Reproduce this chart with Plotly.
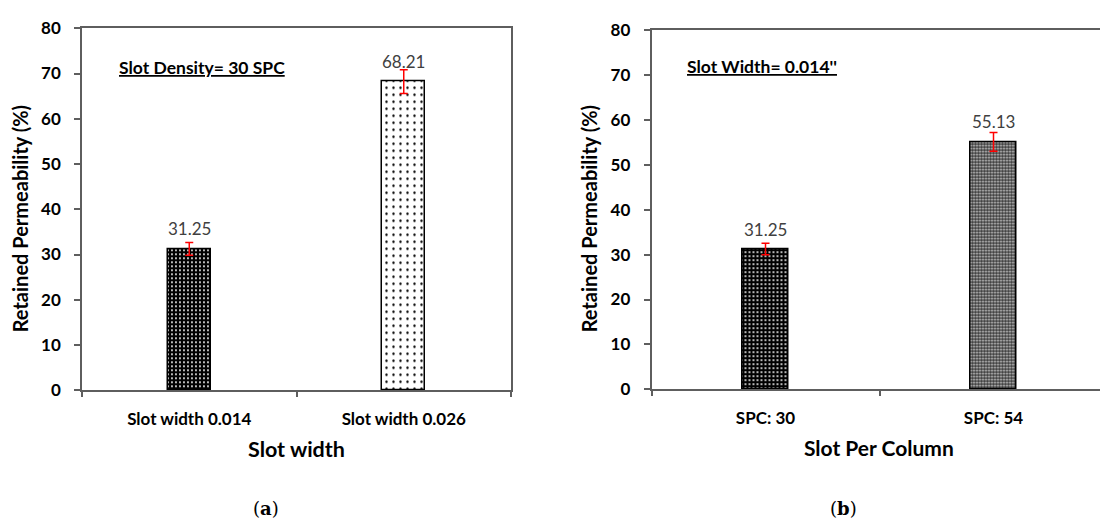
import plotly.graph_objects as go

# Panel (a): effect of slot width at a fixed slot density
width_labels = ["Slot width 0.014", "Slot width 0.026"]
width_retained = [31.25, 68.21]
width_err = [1.4, 2.6]

# Panel (b): effect of slot density at a fixed slot width
spc_labels = ["SPC: 30", "SPC: 54"]
spc_retained = [31.25, 55.13]
spc_err = [1.3, 2.1]

y_ticks = [0, 10, 20, 30, 40, 50, 60, 70, 80]

W, H = 1100, 526
FONT = "Lato"
AXIS_GRAY = "#5e5e5e"

# dotted fills: (background, dot colour, tile size, dot solidity)
fills_a = [("black", "white", 4, 0.18), ("white", "black", 7, 0.09)]
fills_b = [("black", "white", 4, 0.18), ("#3a3a3a", "#e0e0e0", 3, 0.3)]


def px(x):
    return x / W


def py(y):
    return 1 - y / H


fig = go.Figure()

for labels, values, errs, fills, xa, ya in [
    (width_labels, width_retained, width_err, fills_a, "x", "y"),
    (spc_labels, spc_retained, spc_err, fills_b, "x2", "y2"),
]:
    for cat, val, err, (bg, fg, size, sol) in zip(labels, values, errs, fills):
        fig.add_trace(go.Bar(
            x=[cat], y=[val], width=0.2,
            marker=dict(
                color=bg,
                line=dict(color="black", width=1.5),
                pattern=dict(shape=".", fillmode="replace", bgcolor=bg, fgcolor=fg,
                             size=size, solidity=sol),
            ),
            error_y=dict(type="data", array=[err], color="#ff0000", thickness=1.5, width=4),
            xaxis=xa, yaxis=ya, showlegend=False,
        ))

tick_font = dict(family=FONT, size=17, color="black", weight="bold")
xtick_font = dict(family=FONT, size=17, color="black", weight="bold")

common_y = dict(
    range=[0, 80], tickvals=y_ticks, ticks="outside", ticklen=6, tickwidth=1.5,
    tickcolor=AXIS_GRAY, showline=True, linecolor=AXIS_GRAY, linewidth=1.5,
    showgrid=False, zeroline=False, tickfont=tick_font, ticklabelstandoff=10,
)
common_x = dict(
    type="category", categoryorder="trace", ticks="outside", ticklen=5, tickwidth=1.5,
    tickcolor=AXIS_GRAY, tickson="boundaries", showline=True, linecolor=AXIS_GRAY,
    linewidth=1.5, mirror=True, showgrid=False, tickfont=xtick_font, ticklabelstandoff=13,
)

# right panel runs past the canvas edge, so its range is cut short
right_left = 651.5
cat_px = 228.0
right_span = (W - right_left) / cat_px

fig.update_layout(
    width=W, height=H,
    margin=dict(l=0, r=0, t=0, b=0),
    paper_bgcolor="white", plot_bgcolor="white",
    barmode="overlay", bargap=0,
    xaxis=dict(domain=[px(82), px(511)], range=[-0.5, 1.5], anchor="y", **common_x),
    yaxis=dict(domain=[py(395), py(18)], anchor="x", mirror=True, **common_y),
    xaxis2=dict(domain=[px(right_left), 1.0], range=[-0.5, -0.5 + right_span],
                anchor="y2", **common_x),
    yaxis2=dict(domain=[py(394), py(20)], anchor="x2", mirror=False, **common_y),
)

ann = []

# value labels above each bar
for xs, ys, xr, yr in [(width_labels, width_retained, "x", "y"),
                       (spc_labels, spc_retained, "x2", "y2")]:
    for cat, val in zip(xs, ys):
        ann.append(dict(x=cat, y=val, xref=xr, yref=yr, text=f"{val:.2f}",
                        showarrow=False, yshift=20, yanchor="middle",
                        font=dict(family=FONT, size=17, color="#404040")))

box_font = dict(family=FONT, size=17.5, color="black", weight="bold")
ytitle_font = dict(family=FONT, size=20, color="black", weight="bold")


def paper_note(x, y, text, font, xanchor="center", angle=0):
    return dict(x=px(x), y=py(y), xref="paper", yref="paper", xanchor=xanchor,
                yanchor="middle", text=text, textangle=angle, showarrow=False, font=font)


serif = dict(family="DejaVu Serif", size=18, color="black")
ann += [
    paper_note(117, 59, "<u>Slot Density= 30 SPC</u>", box_font, xanchor="left"),
    paper_note(685, 58, "<u>Slot Width= 0.014''</u>", box_font, xanchor="left"),
    paper_note(296.5, 456, "Slot width",
               dict(family=FONT, size=21.5, color="black", weight="bold")),
    paper_note(879, 455, "Slot Per Column",
               dict(family=FONT, size=21, color="black", weight="bold")),
    paper_note(20, 217, "Retained Permeability (%)", ytitle_font, angle=-90),
    paper_note(589, 217, "Retained Permeability (%)", ytitle_font, angle=-90),
    paper_note(266, 518, "(<b>a</b>)", serif),
    paper_note(843, 518, "(<b>b</b>)", serif),
]
fig.update_layout(annotations=ann)

fig.write_html("out.html")
